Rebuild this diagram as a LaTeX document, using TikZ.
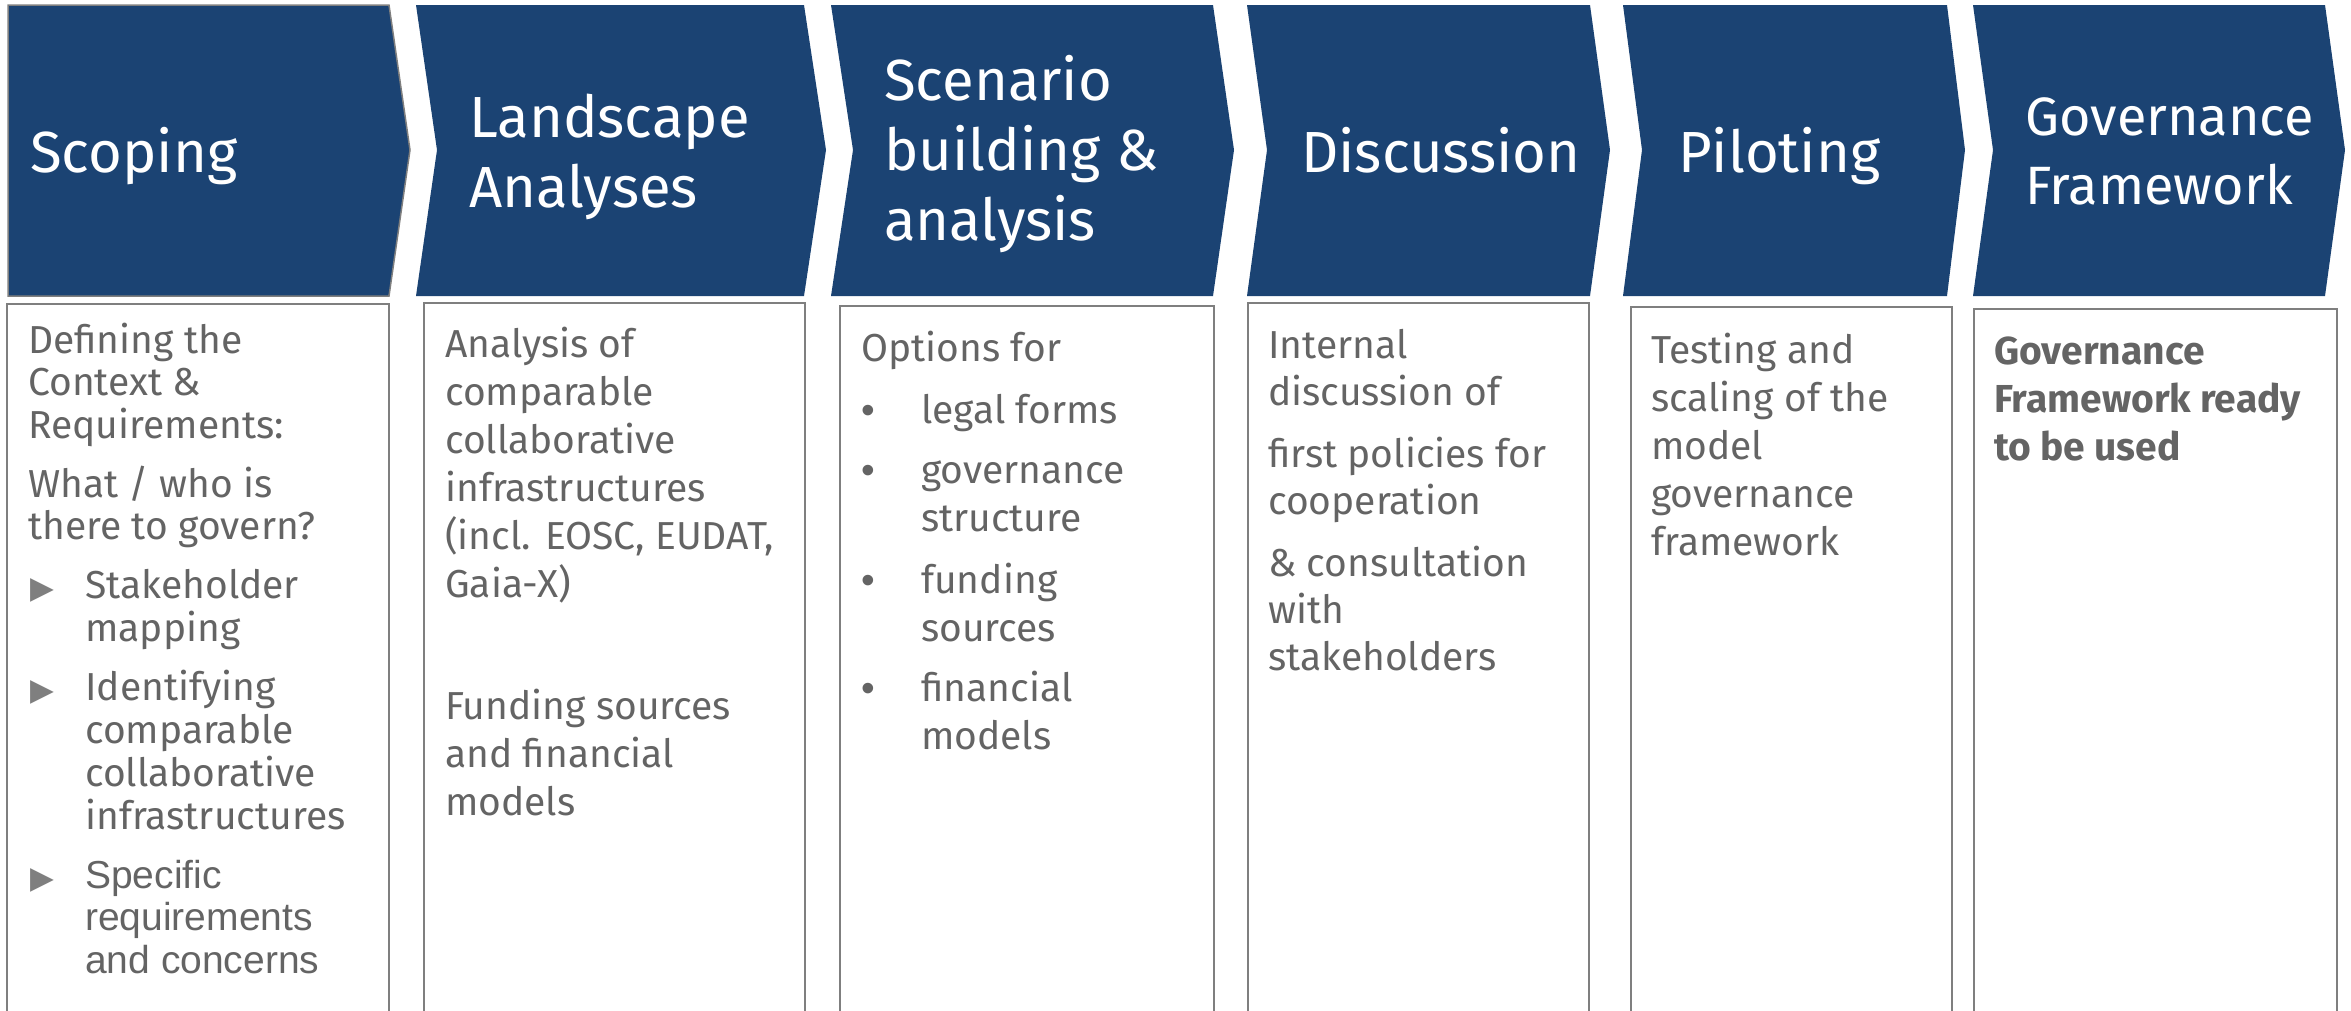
\documentclass[tikz,border=0pt]{standalone}
\usepackage{fontspec}
\setmainfont{Fira Sans}
\newfontfamily\arialf{Liberation Sans}
\newfontfamily\djvf{DejaVu Sans}
\definecolor{chev}{HTML}{1B4373}
\definecolor{txtg}{HTML}{646464}
\definecolor{boxg}{HTML}{7F7F7F}
\definecolor{bulg}{HTML}{7F7F7F}
\newcommand\blk[1]{\begin{tabular}[t]{@{}l@{}}#1\end{tabular}}
\newcommand\tribul{\makebox[57pt][l]{\hspace{2pt}\textcolor{bulg}{\djvf\fontsize{31}{31}\selectfont ▶}}}
\newcommand\triind{\hspace*{57pt}}
\newcommand\dotbul{\makebox[60pt][l]{{\arialf •}}}
\newcommand\dotind{\hspace*{60pt}}
\begin{document}
\begin{tikzpicture}[x=1pt,y=-1pt,
  chevron/.style={fill=chev, draw=none},
  hdr/.style={anchor=base west, inner sep=0pt, text=white, font=\fontsize{58}{70}\selectfont},
  body/.style={anchor=base west, inner sep=0pt, text=txtg, font=\fontsize{39}{48}\selectfont},
  colbox/.style={draw=boxg, line width=2.2pt},
]
\useasboundingbox (0,0) rectangle (2351,1010);

% chevrons
\path[chevron, draw=boxg, line width=1.5pt] (8,5) -- (389,5) -- (410,150) -- (389,296) -- (8,296) -- cycle;
\path[chevron] (416,5) -- (804,5) -- (826,150) -- (804,296) -- (416,296) -- (437,150) -- cycle;
\path[chevron] (831,5) -- (1213,5) -- (1234,150) -- (1213,296) -- (831,296) -- (853,150) -- cycle;
\path[chevron] (1247,5) -- (1590,5) -- (1610,150) -- (1590,296) -- (1247,296) -- (1267,150) -- cycle;
\path[chevron] (1623,5) -- (1947,5) -- (1965,150) -- (1947,296) -- (1623,296) -- (1642,150) -- cycle;
\path[chevron] (1973,5) -- (2325,5) -- (2345,150) -- (2325,296) -- (1973,296) -- (1993,150) -- cycle;

% header texts
\node[hdr] (h1) at (30,172) {\blk{Scoping}};
\node[hdr] (h2) at (469,137) {\blk{Landscape\\Analyses}};
\node[hdr] (h3) at (884,100) {\blk{Scenario\\building \&\\analysis}};
\node[hdr] (h4) at (1301,172) {\blk{Discussion}};
\node[hdr] (h5) at (1678,172) {\blk{Piloting}};
\node[hdr, font=\fontsize{54}{69}\selectfont] (h6) at (2025,135) {\blk{Governance\\Framework}};

% column boxes (open at the bottom, running off the picture)
\draw[colbox] (7,1012) -- (7,304) -- (389,304) -- (389,1012);
\draw[colbox] (424,1012) -- (424,303) -- (805,303) -- (805,1012);
\draw[colbox] (840,1012) -- (840,306) -- (1214,306) -- (1214,1012);
\draw[colbox] (1248,1012) -- (1248,303) -- (1589,303) -- (1589,1012);
\draw[colbox] (1631,1012) -- (1631,307) -- (1952,307) -- (1952,1012);
\draw[colbox] (1974,1012) -- (1974,309) -- (2337,309) -- (2337,1012);

% body texts
\node[body, font=\fontsize{39}{42.5}\selectfont] (t1) at (28,353) {\blk{%
Defining the\\
Context \&\\
Requirements:\\[14.5pt]
What / who is\\
there to govern?\\[16pt]
\tribul Stakeholder\\
\triind mapping\\[16pt]
\tribul Identifying\\
\triind comparable\\
\triind collaborative\\
\triind infrastructures\\[16pt]
\tribul{\arialf Specific}\\
\triind{\arialf requirements}\\
\triind{\arialf and concerns}}};

\node[body] (t2) at (445,357) {\blk{%
Analysis of\\
comparable\\
collaborative\\
infrastructures\\
(incl. EOSC, EUDAT,\\
Gaia-X)\\[74pt]
Funding sources\\
and financial\\
models}};

\node[body] (t3) at (861,361) {\blk{%
Options for\\[14pt]
\dotbul legal forms\\[12pt]
\dotbul governance\\
\dotind structure\\[14pt]
\dotbul funding\\
\dotind sources\\[12pt]
\dotbul financial\\
\dotind models}};

\node[body, font=\fontsize{39}{47}\selectfont] (t4) at (1268,358) {\blk{%
Internal\\
discussion of\\[15pt]
first policies for\\
cooperation\\[15pt]
\& consultation\\
with\\
stakeholders}};

\node[body] (t5) at (1651,363) {\blk{%
Testing and\\
scaling of the\\
model\\
governance\\
framework}};

\node[body, font=\fontsize{39}{48}\selectfont\bfseries] (t6) at (1994,364) {\blk{%
Governance\\
Framework ready\\
to be used}};
\end{tikzpicture}
\end{document}
